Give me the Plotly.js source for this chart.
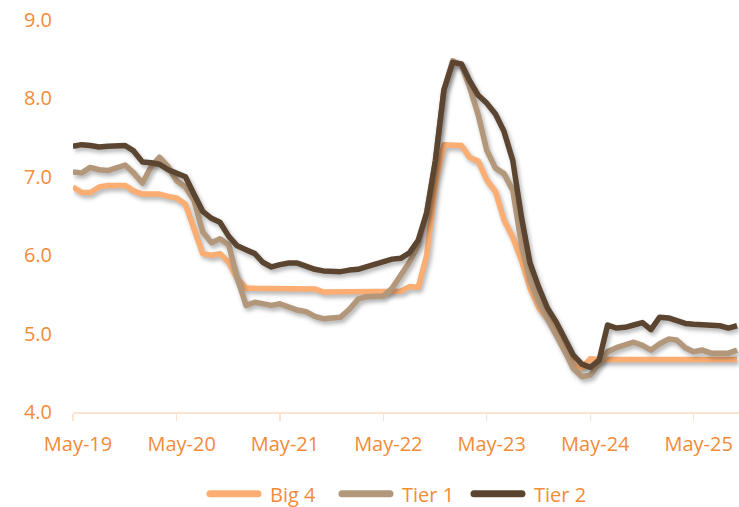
<!DOCTYPE html>
<html>
<head>
<meta charset="utf-8">
<script src="https://cdn.plot.ly/plotly-3.0.1.min.js"></script>
<style>
html,body{margin:0;padding:0;background:#fff;}
#chart{width:739px;height:507px;}
.scatterlayer .js-line{filter:drop-shadow(2px 3px 2px rgba(0,0,0,0.30));stroke-linejoin:round;}
</style>
</head>
<body>
<div id="chart"></div>
<script>
// Monthly dates from May 2019 to Oct 2025
var startYear = 2019, startMonth = 5, nMonths = 78;
var dates = [];
for (var i = 0; i < nMonths; i++) {
  var mm = startMonth - 1 + i;
  var y = startYear + Math.floor(mm / 12);
  var m = (mm % 12) + 1;
  dates.push(y + '-' + (m < 10 ? '0' + m : m) + '-01');
}

var seriesNames = ['Big 4', 'Tier 1', 'Tier 2'];

var big4 = [6.87,6.80,6.80,6.87,6.89,6.89,6.89,6.82,6.78,6.78,6.78,6.75,6.73,6.65,6.32,6.02,6.00,6.02,5.91,5.70,
            5.58,5.58,5.58,5.58,5.58,5.58,5.58,5.58,5.57,5.53,5.53,5.53,5.53,5.53,5.53,5.53,5.53,5.53,5.54,5.60,
            5.59,6.00,6.92,7.41,7.40,7.40,7.25,7.20,6.96,6.81,6.45,6.23,5.93,5.58,5.33,5.20,5.05,4.88,4.60,4.56,
            4.68,4.67,4.67,4.67,4.67,4.67,4.67,4.67,4.67,4.67,4.67,4.67,4.67,4.67,4.67,4.67,4.67,4.67];

var tier1 = [7.06,7.05,7.12,7.09,7.08,7.12,7.15,7.05,6.92,7.13,7.25,7.13,6.95,6.87,6.70,6.30,6.16,6.21,6.13,5.71,
             5.36,5.40,5.38,5.36,5.38,5.34,5.30,5.28,5.22,5.19,5.20,5.21,5.31,5.44,5.47,5.47,5.48,5.58,5.73,5.91,
             6.13,6.54,7.21,8.11,8.48,8.42,8.15,7.79,7.34,7.11,7.04,6.83,6.13,5.68,5.40,5.20,5.01,4.77,4.56,4.45,
             4.47,4.61,4.77,4.82,4.85,4.89,4.85,4.79,4.87,4.93,4.92,4.82,4.77,4.79,4.75,4.75,4.75,4.79];

var tier2 = [7.39,7.41,7.40,7.38,7.39,7.39,7.40,7.33,7.19,7.18,7.16,7.09,7.04,7.00,6.78,6.56,6.47,6.42,6.24,6.12,
             6.07,6.02,5.91,5.85,5.88,5.90,5.90,5.86,5.82,5.80,5.79,5.79,5.81,5.82,5.85,5.88,5.91,5.95,5.96,6.03,
             6.19,6.54,7.21,8.11,8.46,8.44,8.23,8.04,7.94,7.80,7.58,7.21,6.48,5.90,5.59,5.33,5.15,4.94,4.73,4.61,
             4.57,4.66,5.11,5.07,5.08,5.11,5.14,5.05,5.21,5.20,5.17,5.13,5.12,5.11,5.11,5.10,5.07,5.10];

var tickDates = ['2019-05-01','2020-05-01','2021-05-01','2022-05-01','2023-05-01','2024-05-01','2025-05-01'];
var tickLabels = ['May-19','May-20','May-21','May-22','May-23','May-24','May-25'];

var colors = ['#FBAD72', '#B3977A', '#5B4531'];
var values = [big4, tier1, tier2];

var traces = values.map(function (v, k) {
  return {
    x: dates, y: v, name: seriesNames[k], type: 'scatter', mode: 'lines',
    line: {color: colors[k], width: 5.5},
    cliponaxis: false
  };
});

var layout = {
  width: 739, height: 507,
  margin: {l: 73, r: 0, t: 20, b: 95},
  paper_bgcolor: '#ffffff', plot_bgcolor: '#ffffff',
  font: {family: '"Open Sans", "Noto Sans", sans-serif', size: 20, color: '#F28C38'},
  xaxis: {
    type: 'date', range: ['2019-05-01', '2025-10-08'],
    tickmode: 'array', tickvals: tickDates, ticktext: tickLabels,
    showgrid: false, zeroline: false, showline: true,
    linecolor: '#FDE3D0', linewidth: 1.5,
    ticks: 'outside', ticklen: 7, tickcolor: '#FDE3D0', tickwidth: 1.5,
    ticklabelshift: 5, ticklabelstandoff: 6,
    fixedrange: true
  },
  yaxis: {
    range: [4, 9], dtick: 1, tick0: 4, tickformat: '.1f',
    showgrid: false, zeroline: false, showline: false, ticks: '',
    ticklabelstandoff: 20, fixedrange: true
  },
  legend: {orientation: 'h', xref: 'container', x: 0.2774, xanchor: 'left',
           yref: 'container', y: 0.026, yanchor: 'middle',
           itemwidth: 55, entrywidth: 62, entrywidthmode: 'pixels',
           font: {size: 20, color: '#F28C38'}},
  showlegend: true
};

function styleLegend() {
  var paths = document.querySelectorAll('.legend .legendlines path');
  paths.forEach(function (p) {
    p.setAttribute('d', 'M5,0h48');
    p.style.strokeWidth = '7px';
    p.style.strokeLinecap = 'round';
  });
}

Plotly.newPlot('chart', traces, layout, {displayModeBar: false, staticPlot: true}).then(styleLegend);
</script>
</body>
</html>
